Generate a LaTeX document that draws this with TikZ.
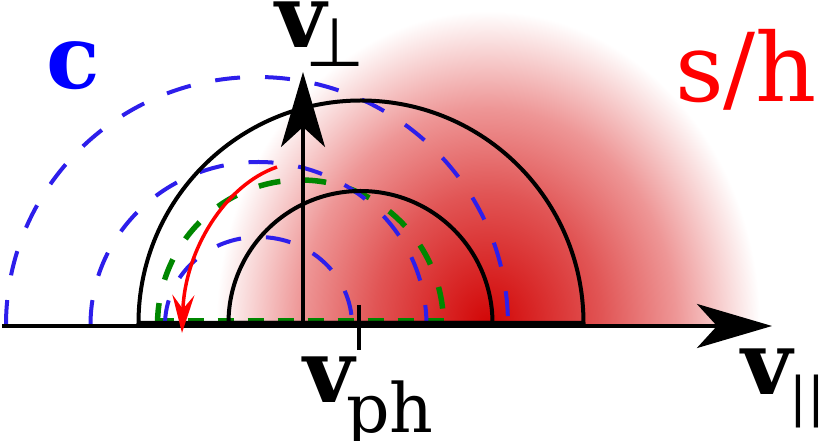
\documentclass[tikz,border=0pt]{standalone}
\usepackage{fontspec}
\setmainfont{DejaVu Serif}
\newfontfamily\dvsans{DejaVu Sans}
\usetikzlibrary{arrows.meta}
\definecolor{shred}{RGB}{210,5,5}
\definecolor{shmid}{RGB}{225,85,85}
\definecolor{shlight}{RGB}{238,150,150}
\definecolor{cblue}{RGB}{45,30,235}
\definecolor{cgreen}{RGB}{0,135,0}
\pgfdeclareradialshading{redfade}{\pgfpoint{0bp}{0bp}}{color(0bp)=(shred); color(10.5bp)=(shmid); color(17.25bp)=(shlight); color(25bp)=(white); color(50bp)=(white)}
\begin{document}
\begin{tikzpicture}[x=1pt,y=1pt,
  bluedash/.style={draw=cblue, line width=4pt, dash pattern=on 25pt off 25pt},
  greendash/.style={draw=cgreen, line width=5.5pt, dash pattern=on 22pt off 24pt},
  halfring/.style={draw=black, line width=4pt},
  axisline/.style={draw=black, line width=4pt, -{Stealth[length=75pt,width=44pt,inset=20pt]}},
  lbl/.style={anchor=base west, inner sep=0pt}
]
\useasboundingbox (0,0) rectangle (830,441);
% shading
\begin{scope}
  \clip (0,116) rectangle (830,441);
  \shade[shading=redfade] (488,116) ellipse [x radius=272pt, y radius=314pt];
\end{scope}
% green dashed semicircle
\coordinate (gL) at (157.5,116);
\coordinate (gbL) at (157.5,120.5);
\coordinate (gbR) at (443.5,120.5);
\draw[greendash] (gL) arc[start angle=180, end angle=0, x radius=143pt, y radius=145pt];
\draw[greendash, line width=4pt, dash pattern=on 16pt off 14pt] (gbL) -- (gbR);
% blue dashed semicircles
\coordinate (b1) at (6,116);
\coordinate (b2) at (90.5,116);
\coordinate (b3) at (165,116);
\draw[bluedash] (b1) arc[start angle=180, end angle=0, x radius=251pt, y radius=248pt];
\draw[bluedash] (b2) arc[start angle=180, end angle=0, x radius=168pt, y radius=163pt];
\draw[bluedash] (b3) arc[start angle=180, end angle=0, x radius=93.5pt, y radius=88pt];
% black half rings
\coordinate (oL) at (138.5,118);
\coordinate (iL) at (228.5,118);
\draw[halfring] (oL) arc[start angle=180, end angle=0, radius=222.5pt] -- cycle;
\draw[halfring] (iL) arc[start angle=180, end angle=0, radius=132pt] -- cycle;
% axes
\coordinate (xs) at (2,115);
\coordinate (xe) at (772,115);
\coordinate (ys) at (303,115);
\coordinate (ye) at (303,369);
\draw[axisline] (xs) -- (xe);
\draw[axisline, line width=3.5pt] (ys) -- (ye);
% v_ph tick
\coordinate (t1) at (359,136);
\coordinate (t2) at (359,91);
\draw[line width=3.5pt] (t1) -- (t2);
% red arrow
\coordinate (rs) at (277,274);
\coordinate (re) at (182,108);
\draw[red, line width=3.5pt, -{Stealth[length=38pt,width=22pt,inset=14pt]}] (rs) .. controls (225,256) and (185,191) .. (re);
% labels
\node[lbl, text=blue, font=\fontsize{88}{88}\selectfont\bfseries] (cl) at (46,352) {c};
\node[lbl, text=red, font=\fontsize{95}{95}\selectfont] (sh) at (675,339) {s/h};
\node[lbl] (vperp) at (275,393) {\fontsize{88}{88}\selectfont\bfseries v\kern-21pt\raisebox{-19pt}{\fontsize{68}{68}\selectfont\mdseries\dvsans ⊥}};
\node[lbl] (vph) at (303,38) {\fontsize{88}{88}\selectfont\bfseries v\kern-8pt\raisebox{-30pt}{\fontsize{68}{68}\selectfont\mdseries ph}};
\node[lbl] (vpar) at (741,46) {\fontsize{88}{88}\selectfont\bfseries v\kern-3pt\raisebox{-20.5pt}{\fontsize{53}{53}\selectfont\mdseries ||}};
\end{tikzpicture}
\end{document}
